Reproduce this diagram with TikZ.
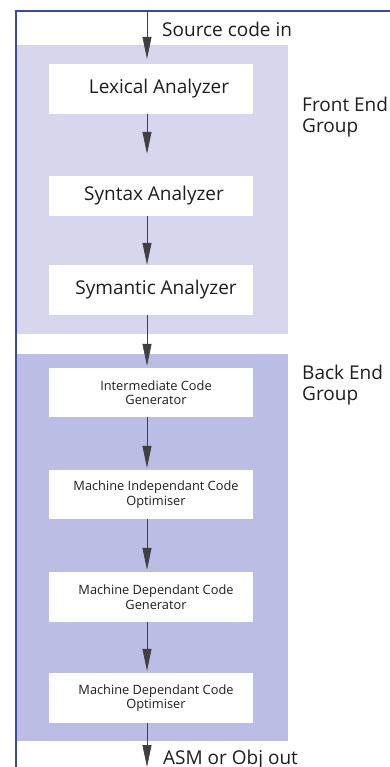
\documentclass[tikz,border=0pt]{standalone}
\usepackage{fontspec}
\setmainfont{Open Sans}
\usetikzlibrary{arrows.meta}
\definecolor{frameblue}{RGB}{58,74,160}
\definecolor{frontfill}{RGB}{214,214,237}
\definecolor{backfill}{RGB}{187,189,228}
\definecolor{txt}{RGB}{30,30,30}
\newcommand{\sh}[1]{\hspace*{#1pt}}
\tikzset{
  bigbox/.style={fill=white, draw=none, minimum width=204pt, inner sep=0pt, text=txt, font=\fontsize{19}{21}\selectfont},
  smallbox/.style={fill=white, draw=none, minimum width=204pt, inner sep=0pt, text=txt, align=center, font=\fontsize{12.8}{14.5}\selectfont},
  lbl/.style={text=txt, font=\fontsize{19}{21}\selectfont, inner sep=0pt, align=left},
  flow/.style={draw=black!75, line width=0.8pt, -{Triangle[length=22pt,width=9pt]}}
}
\begin{document}
\begin{tikzpicture}[x=1pt,y=-1pt]
\useasboundingbox (0,0) rectangle (390,767);
\fill[white] (0,0) rectangle (390,767);
% groups
\fill[frontfill] (17,45) rectangle (288,334);
\fill[backfill] (17,354) rectangle (288,741);
% frame
\draw[frameblue, line width=1.5pt] (16,767) -- (16,11) -- (390,11);
% boxes
\node[bigbox, minimum height=50pt] (lex) at (151,89) {\sh{16}Lexical Analyzer};
\node[bigbox, minimum height=40pt] (syn) at (151,196) {\sh{6}Syntax Analyzer};
\node[bigbox, minimum height=50pt] (sym) at (151,290) {\sh{10}Symantic Analyzer};
\node[smallbox, minimum height=49pt] (int) at (151,392.5) {\sh{10}Intermediate Code\\\sh{10}Generator};
\node[smallbox, minimum height=49pt] (mic) at (151,494.5) {\sh{10}Machine Independant Code\\\sh{10}Optimiser};
\node[smallbox, minimum height=50pt] (mdg) at (151,597) {\sh{10}Machine Dependant Code\\\sh{10}Generator};
\node[smallbox, minimum height=50pt] (mdo) at (151,698) {\sh{10}Machine Dependant Code\\\sh{10}Optimiser};
% arrow axis
\coordinate (ax) at (147,0);
\coordinate (top) at (147,11);
\coordinate (bot) at (147,767);
% connectors
\draw[flow, shorten >=5pt] (top) -- (lex.north -| ax);
\draw[flow, shorten >=22pt] (lex.south -| ax) -- (syn.north -| ax);
\draw[flow] (syn.south -| ax) -- (sym.north -| ax);
\draw[flow, shorten >=2pt] (sym.south -| ax) -- (int.north -| ax);
\draw[flow, shorten >=2pt] (int.south -| ax) -- (mic.north -| ax);
\draw[flow, shorten >=2pt] (mic.south -| ax) -- (mdg.north -| ax);
\draw[flow, shorten >=2pt] (mdg.south -| ax) -- (mdo.north -| ax);
\draw[flow] (mdo.south -| ax) -- (bot);
% labels
\node[lbl, anchor=base west] (src) at (162,37) {Source code in};
\node[lbl, anchor=base west] (fe) at (302,133) {Front End\\Group};
\node[lbl, anchor=base west] (be) at (302,400) {Back End\\Group};
\node[lbl, anchor=base west] (out) at (163,764) {ASM or Obj out};
\end{tikzpicture}
\end{document}
